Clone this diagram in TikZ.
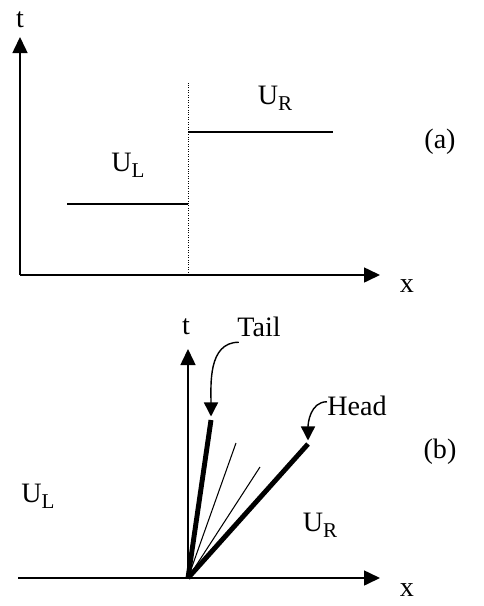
\documentclass[tikz,border=0pt]{standalone}
\usepackage{fontspec}
\setmainfont{Liberation Serif}
\usepackage{tikz}
\usetikzlibrary{positioning,arrows.meta}

\newcommand{\lowsub}[1]{\raisebox{-3.5pt}{\fontsize{12}{14}\selectfont #1}}

\begin{document}
\begin{tikzpicture}[
      x=0.02cm, y=-0.02cm,
      font=\fontsize{16}{19}\selectfont,
      axis/.style={line width=0.9pt, -{Triangle[length=3.2mm,width=3mm]}},
      level/.style={line width=0.9pt},
      fanthick/.style={line width=2.8pt},
      fanthin/.style={line width=0.6pt},
      callout/.style={line width=0.8pt, -{Triangle[length=2.8mm,width=2.8mm]}},
      lbl/.style={inner sep=0pt}
    ]
    \useasboundingbox (0,0) rectangle (484,606);

    % ===== (a) initial data =====
    \coordinate (oa) at (20,275);
    \coordinate (ta) at (20,37);
    \coordinate (xa) at (380,275);
    \draw[axis] (oa) -- (ta);
    \draw[axis] (oa) -- (xa);
    \node[lbl] (tlblA) at (20,20) {t};
    \node[lbl] (xlblA) at (407,286) {x};

    \coordinate (jumpbot) at (188,275);
    \coordinate (jumptop) at (188,83);
    \draw[densely dotted, line width=0.4pt] (jumpbot) -- (jumptop);
    \coordinate (ulA) at (67,204);
    \coordinate (ulB) at (188,204);
    \coordinate (urA) at (188,132);
    \coordinate (urB) at (333,132);
    \draw[level] (ulA) -- (ulB);   % left state
    \draw[level] (urA) -- (urB);   % right state
    \node[lbl] (ulA lbl) at (128,165) {U\lowsub{L}};
    \node[lbl] (urA lbl) at (275,98) {U\lowsub{R}};
    \node[lbl] (capA) at (440,142) {(a)};

    % ===== (b) rarefaction fan =====
    \coordinate (ob) at (188,578);
    \coordinate (tb) at (188,349);
    \coordinate (xl) at (18,578);
    \coordinate (xb) at (380,578);
    \draw[axis] (ob) -- (tb);
    \draw[axis] (xl) -- (xb);
    \node[lbl] (tlblB) at (186,327) {t};
    \node[lbl] (xlblB) at (407,590) {x};

    \coordinate (tailend) at (211,420);
    \coordinate (fanA) at (236,443);
    \coordinate (fanB) at (260,467);
    \coordinate (headend) at (308,444);
    \draw[fanthick] (ob) -- (tailend);
    \draw[fanthin] (ob) -- (fanA);
    \draw[fanthin] (ob) -- (fanB);
    \draw[fanthick] (ob) -- (headend);

    \node[lbl] (tail) at (259,327) {Tail};
    \node[lbl] (head) at (357,406) {Head};
    \draw[callout] ([xshift=1pt,yshift=-1mm]tail.south west) to[out=180,in=90] ([yshift=2pt]tailend);
    \draw[callout] ([yshift=-1.2mm]head.north west) to[out=180,in=90] ([yshift=2pt]headend);

    \node[lbl] (ulB lbl) at (38,496) {U\lowsub{L}};
    \node[lbl] (urB lbl) at (320,525) {U\lowsub{R}};
    \node[lbl] (capB) at (440,452) {(b)};
\end{tikzpicture}
\end{document}
